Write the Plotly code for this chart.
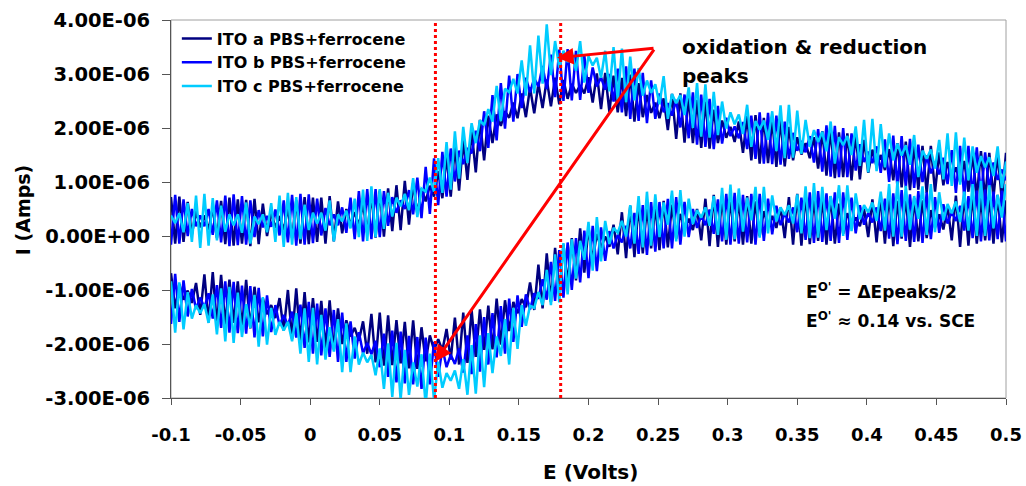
import plotly.graph_objects as go

# Potential sweep (mV) shared by all branches
potential_mV = [
    -100, -97, -94, -91, -88, -85, -82, -79, -76, -73,
    -70, -67, -64, -61, -58, -55, -52, -49, -46, -43,
    -40, -37, -34, -31, -28, -25, -22, -19, -16, -13,
    -10, -7, -4, -1, 2, 5, 8, 11, 14, 17,
    20, 23, 26, 29, 32, 35, 38, 41, 44, 47,
    50, 53, 56, 59, 62, 65, 68, 71, 74, 77,
    80, 83, 86, 89, 92, 95, 98, 101, 104, 107,
    110, 113, 116, 119, 122, 125, 128, 131, 134, 137,
    140, 143, 146, 149, 152, 155, 158, 161, 164, 167,
    170, 173, 176, 179, 182, 185, 188, 191, 194, 197,
    200, 203, 206, 209, 212, 215, 218, 221, 224, 227,
    230, 233, 236, 239, 242, 245, 248, 251, 254, 257,
    260, 263, 266, 269, 272, 275, 278, 281, 284, 287,
    290, 293, 296, 299, 302, 305, 308, 311, 314, 317,
    320, 323, 326, 329, 332, 335, 338, 341, 344, 347,
    350, 353, 356, 359, 362, 365, 368, 371, 374, 377,
    380, 383, 386, 389, 392, 395, 398, 401, 404, 407,
    410, 413, 416, 419, 422, 425, 428, 431, 434, 437,
    440, 443, 446, 449, 452, 455, 458, 461, 464, 467,
    470, 473, 476, 479, 482, 485, 488, 491, 494, 497,
    500,
]

# Currents in units of 10 nA (0.01 uA), listed at the potentials above
ito_a_forward = [
    72, -14, 73, -11, 63, 3, 46, 16, 38, 12,
    52, -4, 65, -15, 71, -18, 68, -14, 67, -19,
    69, -15, 60, 0, 44, 15, 37, 11, 52, -4,
    66, -14, 72, -15, 71, -11, 71, -14, 74, -10,
    64, 5, 50, 21, 44, 19, 60, 5, 76, -3,
    84, -1, 88, 9, 94, 11, 102, 21, 98, 41,
    88, 64, 93, 73, 120, 70, 147, 73, 166, 84,
    177, 104, 195, 118, 215, 140, 223, 172, 225, 204,
    231, 219, 247, 218, 264, 220, 275, 227, 282, 237,
    290, 240, 293, 244, 289, 254, 282, 265, 279, 264,
    294, 247, 301, 235, 302, 230, 297, 229, 293, 222,
    299, 212, 283, 220, 261, 228, 247, 218, 255, 196,
    263, 180, 264, 173, 257, 172, 252, 163, 249, 162,
    234, 172, 214, 182, 202, 174, 212, 154, 222, 140,
    224, 134, 219, 135, 216, 128, 215, 129, 202, 140,
    183, 151, 172, 144, 183, 125, 194, 112, 197, 107,
    192, 109, 190, 103, 190, 105, 178, 117, 160, 129,
    150, 122, 161, 103, 172, 90, 175, 85, 170, 86,
    167, 80, 167, 82, 155, 94, 137, 106, 127, 100,
    139, 82, 152, 71, 157, 68, 154, 71, 153, 66,
    154,
]
ito_a_reverse = [
    -69, -134, -89, -118, -101, -124, -87, -146, -71, -160,
    -67, -165, -72, -164, -81, -161, -84, -170, -81, -171,
    -94, -160, -115, -145, -128, -152, -115, -175, -100, -190,
    -97, -196, -104, -197, -115, -196, -120, -207, -119, -210,
    -134, -200, -156, -186, -170, -194, -158, -218, -144, -234,
    -142, -240, -147, -239, -156, -236, -159, -245, -156, -246,
    -169, -232, -184, -211, -191, -212, -172, -229, -151, -238,
    -142, -235, -137, -224, -136, -211, -129, -210, -116, -201,
    -119, -176, -122, -143, -117, -132, -86, -137, -53, -134,
    -32, -122, -22, -106, -16, -88, -4, -82, 14, -68,
    16, -45, 4, -22, -1, -20, 21, -34, 44, -41,
    56, -39, 57, -32, 54, -23, 56, -26, 65, -21,
    58, -5, 41, 14, 32, 11, 50, -8, 69, -19,
    76, -20, 74, -16, 68, -10, 68, -16, 74, -14,
    64, 0, 46, 19, 37, 15, 53, -4, 72, -16,
    78, -18, 76, -15, 69, -9, 69, -16, 74, -14,
    60, 4, 42, 22, 34, 18, 50, -2, 68, -12,
    74, -14, 80, -19, 65, -5, 72, -20, 70, -10,
    66, -4, 48, 16, 40, 12, 56, -8, 75, -20,
    78, -18, 76, -14, 70, -8, 70, -14, 76, -12,
    66,
]
ito_b_forward = [
    -16, 76, -14, 68, 0, 50, 18, 38, 18, 50,
    2, 66, -12, 75, -19, 77, -17, 74, -16, 66,
    -2, 48, 16, 37, 17, 49, 1, 66, -12, 76,
    -18, 78, -16, 77, -13, 69, 1, 52, 20, 40,
    20, 53, 6, 71, -6, 83, -10, 87, -6, 87,
    -2, 83, 19, 72, 43, 66, 50, 85, 40, 108,
    33, 128, 41, 144, 57, 156, 73, 162, 101, 158,
    133, 163, 153, 195, 157, 231, 163, 261, 177, 283,
    199, 297, 212, 300, 237, 293, 266, 292, 277, 315,
    272, 336, 257, 345, 250, 346, 251, 343, 252, 334,
    265, 312, 277, 294, 271, 300, 249, 310, 229, 314,
    217, 310, 213, 302, 209, 288, 217, 264, 229, 246,
    223, 252, 201, 262, 181, 266, 169, 262, 165, 254,
    161, 241, 171, 219, 185, 203, 181, 211, 161, 223,
    143, 229, 134, 228, 133, 223, 132, 212, 143, 191,
    158, 176, 155, 185, 136, 198, 119, 205, 110, 204,
    109, 200, 109, 190, 121, 170, 137, 156, 135, 166,
    117, 179, 100, 186, 91, 185, 90, 180, 89, 169,
    100, 149, 116, 135, 114, 145, 96, 159, 80, 167,
    72, 167, 73, 164, 74, 155, 87, 136, 104, 123,
    103,
]
ito_b_reverse = [
    -163, -70, -159, -82, -149, -98, -135, -114, -133, -106,
    -153, -91, -170, -84, -179, -85, -180, -92, -181, -93,
    -188, -96, -186, -110, -178, -128, -166, -146, -166, -140,
    -188, -127, -207, -122, -218, -125, -221, -134, -224, -137,
    -233, -142, -233, -158, -227, -178, -217, -198, -219, -194,
    -243, -181, -261, -175, -271, -177, -273, -185, -275, -187,
    -283, -188, -275, -196, -261, -208, -243, -220, -237, -208,
    -253, -184, -256, -163, -251, -150, -238, -143, -225, -130,
    -218, -116, -196, -110, -168, -108, -136, -106, -116, -80,
    -118, -48, -120, -26, -114, -12, -100, -4, -86, 10,
    -78, 19, -65, 16, -46, 9, -23, 2, -12, 19,
    -23, 43, -33, 57, -35, 63, -29, 63, -23, 69,
    -23, 72, -16, 63, -2, 50, 15, 38, 20, 49,
    4, 68, -10, 78, -16, 80, -14, 76, -12, 78,
    -16, 78, -9, 69, 3, 56, 20, 42, 25, 53,
    7, 71, -7, 81, -13, 83, -11, 79, -9, 81,
    -13, 81, -7, 71, 5, 57, 21, 43, 25, 53,
    9, 69, -5, 79, -15, 85, -9, 77, -11, 83,
    -13, 81, -6, 72, 6, 59, 23, 45, 28, 56,
    10, 74, -4, 84, -10, 86, -8, 82, -6, 84,
    -10,
]
ito_c_forward = [
    38, 24, 42, 7, 61, -11, 75, -22, 78, -18,
    70, -8, 56, 8, 40, 20, 40, 6, 62, -14,
    36, 22, 40, 7, 61, -11, 75, -20, 80, -16,
    72, -6, 58, 11, 43, 23, 43, 10, 66, -10,
    40, 27, 47, 14, 69, -2, 86, -9, 92, -2,
    87, 13, 80, 36, 71, 55, 78, 48, 107, 35,
    88, 82, 108, 82, 144, 80, 174, 86, 194, 106,
    202, 135, 209, 172, 214, 205, 235, 212, 278, 213,
    273, 266, 291, 264, 325, 260, 353, 264, 371, 282,
    392, 298, 361, 312, 343, 322, 341, 306, 361, 284,
    333, 316, 330, 293, 343, 268, 350, 251, 347, 248,
    332, 251, 311, 260, 288, 265, 281, 244, 296, 217,
    263, 246, 261, 224, 275, 200, 283, 184, 281, 182,
    267, 187, 249, 199, 229, 207, 225, 189, 243, 165,
    213, 197, 214, 178, 231, 157, 242, 144, 243, 145,
    232, 152, 215, 165, 196, 174, 193, 157, 212, 134,
    183, 168, 185, 150, 203, 130, 215, 118, 217, 120,
    207, 127, 190, 140, 171, 149, 168, 132, 187, 109,
    158, 143, 160, 125, 178, 105, 190, 93, 192, 95,
    182, 103, 166, 117, 148, 127, 146, 111, 166, 89,
    138,
]
ito_c_reverse = [
    -84, -179, -86, -173, -104, -153, -128, -143, -126, -161,
    -108, -182, -97, -195, -94, -198, -105, -187, -126, -170,
    -109, -205, -113, -201, -133, -183, -159, -175, -159, -195,
    -143, -218, -134, -233, -133, -238, -146, -229, -169, -214,
    -154, -252, -162, -252, -186, -238, -216, -234, -220, -258,
    -208, -283, -199, -298, -198, -303, -211, -294, -234, -279,
    -219, -313, -218, -304, -233, -281, -254, -268, -249, -283,
    -228, -294, -202, -292, -184, -280, -180, -254, -186, -222,
    -154, -238, -133, -209, -128, -166, -129, -133, -104, -128,
    -63, -128, -34, -123, -13, -108, -6, -79, -9, -44,
    26, -64, 35, -47, 28, -15, 15, 6, 28, -1,
    57, -14, 74, -21, 82, -18, 77, -2, 62, 21,
    84, -10, 85, -1, 69, 22, 48, 34, 53, 19,
    74, 2, 89, -7, 95, -6, 88, 8, 71, 29,
    91, -3, 91, 5, 75, 27, 53, 39, 57, 23,
    77, 5, 92, -4, 98, -3, 91, 11, 74, 32,
    94, 0, 94, 9, 79, 31, 57, 44, 62, 28,
    82, 10, 96, -1, 101, -1, 93, 12, 74, 32,
    92, 2, 96, 7, 81, 29, 59, 42, 64, 26,
    82, 10, 96, 0, 102, 0, 94, 14, 76, 34,
    96,
]

series_names = ["ITO a PBS+ferrocene", "ITO b PBS+ferrocene", "ITO c PBS+ferrocene"]
series_colors = ["#000080", "#0000FF", "#00CCFF"]

x_tick_values = [-0.1, -0.05, 0, 0.05, 0.1, 0.15, 0.2, 0.25, 0.3, 0.35, 0.4, 0.45, 0.5]
x_tick_labels = ["-0.1", "-0.05", "0", "0.05", "0.1", "0.15", "0.2", "0.25", "0.3",
                 "0.35", "0.4", "0.45", "0.5"]
y_tick_values = [-3, -2, -1, 0, 1, 2, 3, 4]  # microamps
y_tick_labels = ["-3.00E-06", "-2.00E-06", "-1.00E-06", "0.00E+00",
                 "1.00E-06", "2.00E-06", "3.00E-06", "4.00E-06"]
peak_potentials = [0.09, 0.18]

branches = [
    (ito_a_forward, ito_a_reverse),
    (ito_b_forward, ito_b_reverse),
    (ito_c_forward, ito_c_reverse),
]
for f, r in branches:
    assert len(f) == len(potential_mV), len(f)
    assert len(r) == len(potential_mV), len(r)

FONT = "DejaVu Sans"
E_volts = [e / 1000 for e in potential_mV]

fig = go.Figure()
for name, color, (fwd, rev) in zip(series_names, series_colors, branches):
    xs = E_volts + [None] + E_volts
    ys = [v / 100 for v in fwd] + [None] + [v / 100 for v in rev]
    fig.add_trace(go.Scatter(x=xs, y=ys, mode="lines", name=name,
                             line=dict(color=color, width=2.5),
                             connectgaps=False, cliponaxis=True))

shapes = [dict(type="rect", xref="x domain", yref="y domain", x0=0, x1=1, y0=0, y1=1,
               line=dict(color="#A0A0A0", width=1), layer="below")]
for p in peak_potentials:
    shapes.append(dict(type="line", xref="x", yref="y", x0=p, x1=p, y0=-3, y1=4,
                       line=dict(color="#FF0000", width=3, dash="dot"), layer="above"))

def bold(size, color="black"):
    return dict(family=FONT, size=size, color=color, weight="bold")

annotations = [
    dict(x=0.1774, y=3.30, ax=0.2478, ay=3.48, xref="x", yref="y", axref="x", ayref="y",
         text="", showarrow=True, arrowhead=2, arrowsize=1.1, arrowwidth=3, arrowcolor="#FF0000"),
    dict(x=0.0897, y=-2.33, ax=0.2478, ay=3.48, xref="x", yref="y", axref="x", ayref="y",
         text="", showarrow=True, arrowhead=2, arrowsize=1.1, arrowwidth=3, arrowcolor="#FF0000"),
    dict(x=0.2657, y=3.50, xref="x", yref="y", text="oxidation & reduction", showarrow=False,
         xanchor="left", yanchor="middle", font=bold(20)),
    dict(x=0.2657, y=2.96, xref="x", yref="y", text="peaks", showarrow=False,
         xanchor="left", yanchor="middle", font=bold(20)),
    dict(x=0.3548, y=-1.02, xref="x", yref="y", text="E<sup>O'</sup> = ΔEpeaks/2",
         showarrow=False, xanchor="left", yanchor="middle", font=bold(17)),
    dict(x=0.3548, y=-1.56, xref="x", yref="y", text="E<sup>O'</sup> ≈ 0.14 vs. SCE",
         showarrow=False, xanchor="left", yanchor="middle", font=bold(17)),
    dict(x=-0.1772, y=0.497, xref="paper", yref="paper", text="I (Amps)", showarrow=False,
         textangle=-90, xanchor="center", yanchor="middle", font=bold(19)),
    dict(x=0.502, y=-0.195, xref="paper", yref="paper", text="E (Volts)", showarrow=False,
         xanchor="center", yanchor="middle", font=bold(20)),
]

fig.update_layout(
    width=1026, height=486,
    margin=dict(l=171, r=20, t=20, b=88, pad=0, autoexpand=False),
    paper_bgcolor="white", plot_bgcolor="white",
    font=dict(family=FONT, color="black"),
    showlegend=True,
    legend=dict(x=0.007, y=0.996, xanchor="left", yanchor="top",
                bgcolor="rgba(0,0,0,0)", borderwidth=0, font=bold(16),
                tracegroupgap=0, itemwidth=30),
    shapes=shapes,
    annotations=annotations,
    xaxis=dict(range=[-0.1, 0.5], tickvals=x_tick_values, ticktext=x_tick_labels,
               ticks="outside", ticklen=6, tickcolor="#555555", tickwidth=1,
               showline=True, linecolor="#555555", linewidth=1, automargin=False,
               showgrid=False, zeroline=False, tickfont=bold(18),
               ticklabelstandoff=14),
    yaxis=dict(range=[-3, 4], tickvals=y_tick_values, ticktext=y_tick_labels,
               ticks="outside", ticklen=8, tickcolor="#555555", tickwidth=1,
               showline=True, linecolor="#555555", linewidth=1, automargin=False,
               showgrid=False, zeroline=False, tickfont=bold(19.5),
               ticklabelstandoff=8),
)

fig.write_html("out.html")
